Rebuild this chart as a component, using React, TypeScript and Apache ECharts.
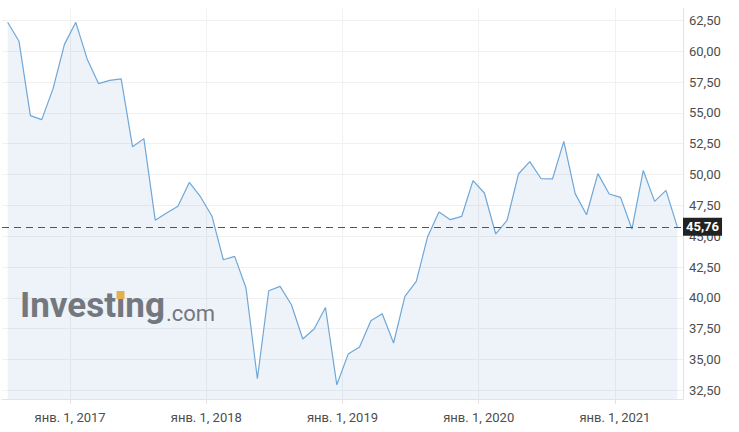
import React, { useEffect, useRef } from 'react';
import * as echarts from 'echarts';

// Monthly closes, Jul 2016 .. Jun 2021
const firstYear = 2016;
const firstMonth = 7;
const prices = [
  62.34, 60.8, 54.77, 54.45, 56.96, 60.55, 62.34, 59.37, 57.37, 57.63, 57.75, 52.26,
  52.91, 46.3, 46.88, 47.43, 49.36, 48.18, 46.62, 43.09, 43.36, 40.8, 33.44, 40.58,
  40.93, 39.44, 36.66, 37.47, 39.22, 32.95, 35.44, 36.01, 38.15, 38.71, 36.34, 40.12,
  41.33, 44.96, 46.96, 46.34, 46.6, 49.5, 48.5, 45.18, 46.28, 50.04, 51.04, 49.66,
  49.64, 52.69, 48.45, 46.74, 50.07, 48.42, 48.15, 45.58, 50.33, 47.82, 48.71, 45.76,
];
const lastPrice = 45.76;

// x ticks: months since Jan 2016
const yearTickValues = [12, 24, 36, 48, 60];
const yearTickLabels = ['янв. 1, 2017', 'янв. 1, 2018', 'янв. 1, 2019', 'янв. 1, 2020', 'янв. 1, 2021'];
const priceTicks = [32.5, 35, 37.5, 40, 42.5, 45, 47.5, 50, 52.5, 55, 57.5, 60, 62.5];

const fmt = (v: number) => v.toFixed(2).replace('.', ',');

export default function App() {
  const ref = useRef<HTMLDivElement>(null);
  useEffect(() => {
    const chart = echarts.init(ref.current!, null, { renderer: 'svg' });
    const data = prices.map((v, i) => [(firstYear - 2016) * 12 + firstMonth - 1 + i + 0.5, v]);
    chart.setOption({
      animation: false,
      backgroundColor: '#ffffff',
      grid: { left: 2, right: 56, top: 8, bottom: 33, containLabel: false },
      xAxis: {
        type: 'value',
        min: 6,
        max: 66,
        axisLine: { show: true, lineStyle: { color: '#e3e3e3', width: 1 } },
        axisTick: { show: true, length: 5, lineStyle: { color: '#e3e3e3' }, customValues: yearTickValues },
        splitLine: { show: true, lineStyle: { color: '#f1f1f1', width: 1 } },
        axisLabel: {
          customValues: yearTickValues,
          formatter: (v: number) => {
            const idx = yearTickValues.indexOf(Math.round(v));
            return idx >= 0 ? yearTickLabels[idx] : '';
          },
          color: '#4d4d4d',
          fontSize: 13,
          fontFamily: 'Roboto',
          margin: 12,
        },
      },
      yAxis: {
        type: 'value',
        position: 'right',
        min: 31.8,
        max: 63.5,
        axisLine: { show: true, lineStyle: { color: '#e3e3e3', width: 1 } },
        axisTick: { show: false, customValues: priceTicks },
        splitLine: { show: true, lineStyle: { color: '#f1f1f1', width: 1 } },
        axisLabel: {
          customValues: priceTicks,
          formatter: (v: number) => fmt(v),
          color: '#4d4d4d',
          fontSize: 13,
          fontFamily: 'Roboto',
          margin: 6,
        },
      },
      graphic: [
        {
          type: 'text',
          left: 20,
          top: 288,
          z: 1,
          style: { text: 'Investing', font: 'bold 35px Roboto', fill: '#747474' },
        },
        {
          type: 'rect',
          shape: { x: 116.5, y: 291, width: 8, height: 8 },
          z: 2,
          style: { fill: '#f4b440' },
        },
        {
          type: 'text',
          left: 166,
          top: 302,
          z: 1,
          style: { text: '.com', font: '22px Roboto', fill: '#747474' },
        },
      ],
      series: [
        {
          type: 'line',
          data,
          symbol: 'none',
          lineStyle: { color: '#6fa7d7', width: 1.2 },
          areaStyle: { color: 'rgba(100,150,200,0.17)', origin: 'start' },
          markLine: {
            silent: true,
            symbol: ['none', 'none'],
            data: [{ yAxis: lastPrice }],
            lineStyle: { type: [7, 5], color: '#555555', width: 1 },
            label: {
              position: 'end',
              distance: 0,
              formatter: () => fmt(lastPrice),
              backgroundColor: '#222222',
              color: '#ffffff',
              fontWeight: 'bold',
              fontSize: 13,
              fontFamily: 'Roboto',
              padding: [3, 3, 2, 3],
            },
          },
        },
      ],
    });
    return () => chart.dispose();
  }, []);
  return <div ref={ref} style={{ position: 'fixed', left: 0, top: 0, width: 739, height: 432 }} />;
}
